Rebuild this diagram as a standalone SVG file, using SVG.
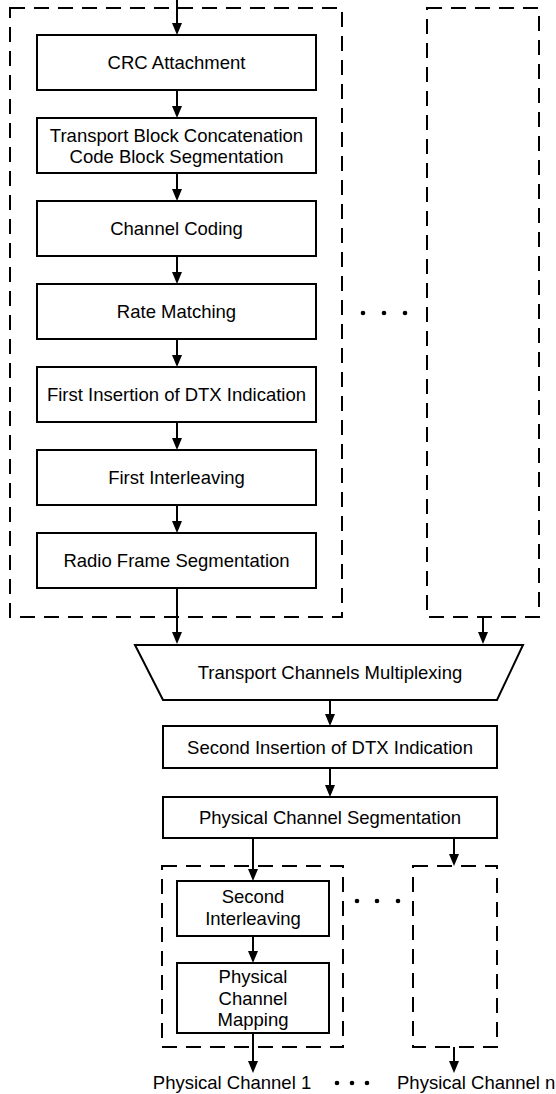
<svg xmlns="http://www.w3.org/2000/svg" width="556" height="1094" viewBox="0 0 556 1094">
<defs>
<style>
.box{fill:#fff;stroke:#000;stroke-width:2}
.dash{fill:none;stroke:#000;stroke-width:2;stroke-dasharray:15 9}
.t{font-family:"Liberation Sans",Arial,Helvetica,sans-serif;font-size:18.5px;fill:#000;text-anchor:middle}
.c{stroke:#000;stroke-width:2;fill:none;marker-end:url(#ah)}
</style>
<marker id="ah" viewBox="0 0 12 10" refX="4" refY="5" markerUnits="userSpaceOnUse" markerWidth="12" markerHeight="10" orient="auto">
<path d="M0,0 L12,5 L0,10 z" fill="#000"/>
</marker>
</defs>
<rect width="556" height="1094" fill="#fff"/>

<g id="group-tr1"><rect class="dash" x="10" y="8" width="332" height="609"/></g>
<g id="group-trn"><rect class="dash" x="427" y="8" width="112" height="609"/></g>
<g id="group-ph1"><rect class="dash" x="162" y="866" width="181" height="181"/></g>
<g id="group-phn"><rect class="dash" x="413" y="866" width="84" height="181"/></g>

<g id="connectors">
<line class="c" x1="177" y1="0" x2="177" y2="27"/>
<line class="c" x1="177" y1="90" x2="177" y2="110"/>
<line class="c" x1="177" y1="173" x2="177" y2="193"/>
<line class="c" x1="177" y1="256" x2="177" y2="276"/>
<line class="c" x1="177" y1="339" x2="177" y2="359"/>
<line class="c" x1="177" y1="422" x2="177" y2="442"/>
<line class="c" x1="177" y1="505" x2="177" y2="525"/>
<line class="c" x1="177" y1="588" x2="177" y2="636"/>
<line class="c" x1="483" y1="617" x2="483" y2="636"/>
<line class="c" x1="330" y1="700" x2="330" y2="718"/>
<line class="c" x1="330" y1="768" x2="330" y2="789"/>
<line class="c" x1="253" y1="838" x2="253" y2="873"/>
<line class="c" x1="454" y1="838" x2="454" y2="858"/>
<line class="c" x1="253" y1="936" x2="253" y2="955"/>
<line class="c" x1="253" y1="1033" x2="253" y2="1065"/>
<line class="c" x1="454" y1="1047" x2="454" y2="1065"/>
</g>

<g id="crc"><rect class="box" x="37" y="35" width="279" height="55"/><text class="t" x="176.5" y="69">CRC Attachment</text></g>
<g id="tbconcat"><rect class="box" x="37" y="118" width="279" height="55"/><text class="t" x="176.5" y="142">Transport Block Concatenation</text><text class="t" x="176.5" y="163">Code Block Segmentation</text></g>
<g id="chcoding"><rect class="box" x="37" y="201" width="279" height="55"/><text class="t" x="176.5" y="235">Channel Coding</text></g>
<g id="ratematch"><rect class="box" x="37" y="284" width="279" height="55"/><text class="t" x="176.5" y="318">Rate Matching</text></g>
<g id="dtx1"><rect class="box" x="37" y="367" width="279" height="55"/><text class="t" x="176.5" y="401">First Insertion of DTX Indication</text></g>
<g id="inter1"><rect class="box" x="37" y="450" width="279" height="55"/><text class="t" x="176.5" y="484">First Interleaving</text></g>
<g id="rfseg"><rect class="box" x="37" y="533" width="279" height="55"/><text class="t" x="176.5" y="567">Radio Frame Segmentation</text></g>

<g id="dots1"><circle cx="363" cy="313" r="2.3"/><circle cx="384" cy="313" r="2.3"/><circle cx="405" cy="313" r="2.3"/></g>

<g id="tcmux"><polygon class="box" points="135,645 523,645 497,700 163,700"/><text class="t" x="330" y="679">Transport Channels Multiplexing</text></g>
<g id="dtx2"><rect class="box" x="163" y="726" width="334" height="42"/><text class="t" x="330" y="754">Second Insertion of DTX Indication</text></g>
<g id="pcseg"><rect class="box" x="163" y="797" width="334" height="41"/><text class="t" x="330" y="824">Physical Channel Segmentation</text></g>

<g id="inter2"><rect class="box" x="177" y="881" width="152" height="55"/><text class="t" x="253" y="903">Second</text><text class="t" x="253" y="925">Interleaving</text></g>
<g id="pcmap"><rect class="box" x="177" y="963" width="152" height="70"/><text class="t" x="253" y="983">Physical</text><text class="t" x="253" y="1005">Channel</text><text class="t" x="253" y="1026">Mapping</text></g>

<g id="dots2"><circle cx="357" cy="901" r="2.3"/><circle cx="377" cy="901" r="2.3"/><circle cx="398" cy="901" r="2.3"/></g>

<g id="out1"><text class="t" x="232" y="1089">Physical Channel 1</text></g>
<g id="dots3"><circle cx="337" cy="1083" r="2.3"/><circle cx="352" cy="1083" r="2.3"/><circle cx="367" cy="1083" r="2.3"/></g>
<g id="outn"><text class="t" x="397" y="1089" style="text-anchor:start">Physical Channel n</text></g>
</svg>
